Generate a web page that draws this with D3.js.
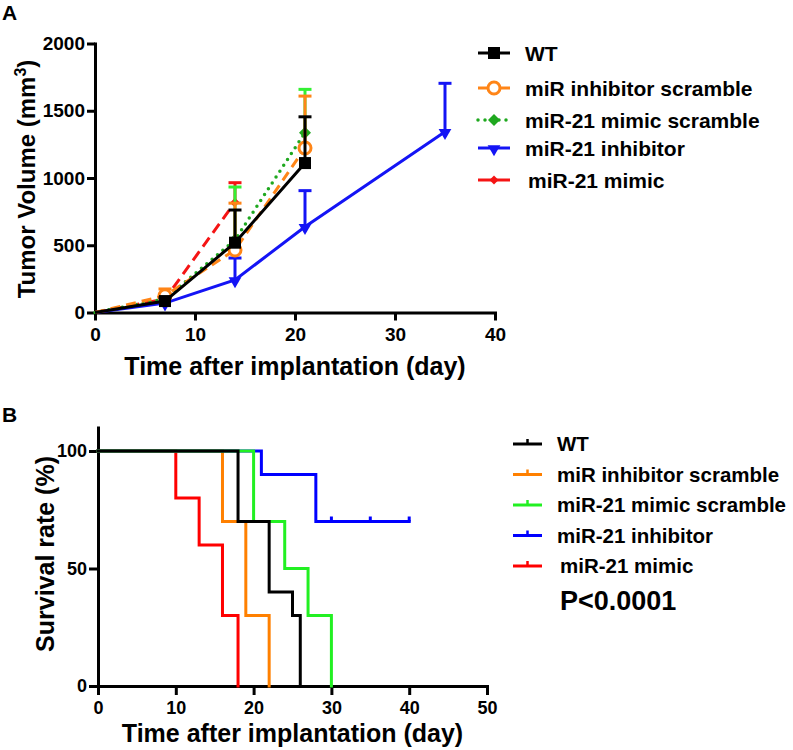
<!DOCTYPE html>
<html><head><meta charset="utf-8">
<script src="https://cdn.jsdelivr.net/npm/d3@7"></script>
<style>
body{margin:0;background:#fff}
svg{display:block}
text{font-family:"Liberation Sans",Arial,Helvetica,sans-serif;font-weight:bold;fill:#000}
</style>
</head><body><svg id="c" width="793" height="750"></svg>
<script>
// ---------- Panel A: tumor volume (mean, +SD) ----------
const groupNames = ["WT","miR inhibitor scramble","miR-21 mimic scramble","miR-21 inhibitor","miR-21 mimic"];
const wtDays = [0,7,14,21];
const wtMean = [0,85,519,1111];
const wtSD   = [0,25,243,344];
const invScrDays = [0,7,14,21];
const invScrMean = [0,125,465,1223];
const invScrSD   = [0,50,348,386];
const mimScrDays = [0,7,14,21];
const mimScrMean = [0,100,540,1337];
const mimScrSD   = [0,30,393,322];
const invDays = [0,7,14,21,35];
const invMean = [0,70,242,638,1344];
const invSD   = [0,20,163,268,360];
const mimDays = [0,7,14];
const mimMean = [0,100,820];
const mimSD   = [0,30,145];
const tumorXTicks = [0,10,20,30,40];
const tumorYTicks = [0,500,1000,1500,2000];

// ---------- Panel B: survival (Kaplan-Meier steps) ----------
const survWTDays = [0,18,22,25,26];
const survWTPct  = [100,70,40,30,0];
const survInvScrDays = [0,16,19,22];
const survInvScrPct  = [100,70,30,0];
const survMimScrDays = [0,20,24,27,30];
const survMimScrPct  = [100,70,50,30,0];
const survInvDays = [0,21,28,40];
const survInvPct  = [100,90,70,70];
const survInvCensored = [30,35,40];
const survMimDays = [0,10,13,16,18];
const survMimPct  = [100,80,60,30,0];
const survXTicks = [0,10,20,30,40,50];
const survYTicks = [0,50,100];
const pValueText = "P<0.0001";

const svg = d3.select("#c");
const zip = (xs, ys, es) => xs.map((x,i)=>({x, y: ys[i], e: es ? es[i] : 0}));

function styleAxis(g, fs){
  g.select(".domain").attr("stroke","#000").attr("stroke-width",3).attr("stroke-linecap","square");
  g.selectAll(".tick line").attr("stroke","#000").attr("stroke-width",3);
  g.selectAll(".tick text").style("font-size",fs+"px").attr("fill","#000");
}

// ===== Panel A =====
const xA = d3.scaleLinear().domain([0,40]).range([95,495]);
const yA = d3.scaleLinear().domain([0,2000]).range([312.5,43.5]);

svg.append("text").attr("x",2).attr("y",20).style("font-size","21px").text("A");

const gxA = svg.append("g").attr("transform",`translate(0,${yA(0)})`)
  .call(d3.axisBottom(xA).tickValues(tumorXTicks).tickFormat(d3.format("d")).tickSize(8).tickSizeOuter(0).tickPadding(7));
styleAxis(gxA,19);
const gyA = svg.append("g").attr("transform",`translate(${xA(0)},0)`)
  .call(d3.axisLeft(yA).tickValues(tumorYTicks).tickFormat(d3.format("d")).tickSize(8).tickSizeOuter(0).tickPadding(2));
styleAxis(gyA,19);

svg.append("text").attr("x",(xA(0)+xA(40))/2).attr("y",375).attr("text-anchor","middle")
  .style("font-size","25px").text("Time after implantation (day)");
const yt = svg.append("text").attr("transform","translate(35,179) rotate(-90)").attr("text-anchor","middle").style("font-size","24px");
yt.append("tspan").text("Tumor Volume (mm");
yt.append("tspan").attr("dy",-9).style("font-size","16px").text("3");
yt.append("tspan").attr("dy",9).text(")");

const seriesA = [
  {name:groupNames[3], data:zip(invDays,invMean,invSD), color:"#1414f5", err:"#1414f5", dash:null, cap:"butt", marker:"tri"},
  {name:groupNames[4], data:zip(mimDays,mimMean,mimSD), color:"#f51414", err:"#f51414", dash:"11,6", cap:"butt", marker:"smalldia"},
  {name:groupNames[2], data:zip(mimScrDays,mimScrMean,mimScrSD), color:"#1fa81f", err:"#33f033", dash:"0,7", cap:"round", marker:"dia"},
  {name:groupNames[1], data:zip(invScrDays,invScrMean,invScrSD), color:"#ff8517", err:"#ff8517", dash:"10,6", cap:"butt", marker:"circle"},
  {name:groupNames[0], data:zip(wtDays,wtMean,wtSD), color:"#000", err:"#000", dash:null, cap:"butt", marker:"square"}
];

function drawMarker(g, type, color, x, y){
  if(type==="square") g.append("rect").attr("x",x-6).attr("y",y-6).attr("width",12).attr("height",12).attr("fill",color);
  else if(type==="circle") g.append("circle").attr("cx",x).attr("cy",y).attr("r",6).attr("fill","#fff").attr("stroke",color).attr("stroke-width",3);
  else if(type==="dia") g.append("path").attr("d",d3.symbol(d3.symbolSquare,72)()).attr("transform",`translate(${x},${y}) rotate(45)`).attr("fill",color);
  else if(type==="smalldia") g.append("path").attr("d",d3.symbol(d3.symbolSquare,40)()).attr("transform",`translate(${x},${y}) rotate(45)`).attr("fill",color);
  else if(type==="tri") g.append("path").attr("d",d3.symbol(d3.symbolTriangle,70)()).attr("transform",`translate(${x},${y+1}) rotate(180)`).attr("fill",color);
}

const lineA = d3.line().x(d=>xA(d.x)).y(d=>yA(d.y));
seriesA.forEach(s=>{
  const g = svg.append("g");
  // error bars (upper only)
  s.data.filter(d=>d.e>0).forEach(d=>{
    g.append("line").attr("x1",xA(d.x)).attr("x2",xA(d.x)).attr("y1",yA(d.y)).attr("y2",yA(d.y+d.e))
      .attr("stroke",s.err).attr("stroke-width",3);
    g.append("line").attr("x1",xA(d.x)-6.5).attr("x2",xA(d.x)+6.5).attr("y1",yA(d.y+d.e)).attr("y2",yA(d.y+d.e))
      .attr("stroke",s.err).attr("stroke-width",3);
  });
  g.append("path").attr("d",lineA(s.data)).attr("fill","none").attr("stroke",s.color)
    .attr("stroke-width",s.marker==="dia"?3.5:3).attr("stroke-dasharray",s.dash).attr("stroke-linecap",s.cap);
  s.data.filter(d=>d.x>0).forEach(d=>drawMarker(g,s.marker,s.color,xA(d.x),yA(d.y)));
});

// Legend A
const legA = [seriesA[4],seriesA[3],seriesA[2],seriesA[0],seriesA[1]];
const legAy = [53,88,120,148,180];
legA.forEach((s,i)=>{
  const g = svg.append("g");
  const y = legAy[i];
  g.append("line").attr("x1",478).attr("x2",510).attr("y1",y).attr("y2",y).attr("stroke",s.color)
    .attr("stroke-width",s.marker==="dia"?3.5:3).attr("stroke-dasharray",s.marker==="dia"?"0,7":null).attr("stroke-linecap",s.cap);
  drawMarker(g,s.marker,s.color,494,y);
  g.append("text").attr("x",i===4?528:525).attr("y",y).attr("dy","0.36em").style("font-size","21px").text(s.name);
});

// ===== Panel B =====
const xB = d3.scaleLinear().domain([0,50]).range([98,487]);
const yB = d3.scaleLinear().domain([0,110]).range([686,427.5]);

svg.append("text").attr("x",2).attr("y",422).style("font-size","21px").text("B");

const gxB = svg.append("g").attr("transform",`translate(0,${yB(0)})`)
  .call(d3.axisBottom(xB).tickValues(survXTicks).tickFormat(d3.format("d")).tickSize(9).tickSizeOuter(0).tickPadding(6));
styleAxis(gxB,18);
const gyB = svg.append("g").attr("transform",`translate(${xB(0)},0)`)
  .call(d3.axisLeft(yB).tickValues(survYTicks).tickFormat(d3.format("d")).tickSize(9).tickSizeOuter(0).tickPadding(2));
styleAxis(gyB,18);

svg.append("text").attr("x",(xB(0)+xB(50))/2).attr("y",742).attr("text-anchor","middle")
  .style("font-size","25px").text("Time after implantation (day)");
svg.append("text").attr("transform","translate(54,554) rotate(-90)").attr("text-anchor","middle")
  .style("font-size","25px").text("Survival rate (%)");

const seriesB = [
  {name:groupNames[4], data:zip(survMimDays,survMimPct), color:"#ff0000", cens:[]},
  {name:groupNames[1], data:zip(survInvScrDays,survInvScrPct), color:"#ff8000", cens:[]},
  {name:groupNames[3], data:zip(survInvDays,survInvPct), color:"#0000ff", cens:survInvCensored},
  {name:groupNames[2], data:zip(survMimScrDays,survMimScrPct), color:"#22f022", cens:[]},
  {name:groupNames[0], data:zip(survWTDays,survWTPct), color:"#000", cens:[]}
];
const lineB = d3.line().x(d=>xB(d.x)).y(d=>yB(d.y)).curve(d3.curveStepAfter);
seriesB.forEach(s=>{
  svg.append("path").attr("d",lineB(s.data)).attr("fill","none").attr("stroke",s.color)
    .attr("stroke-width",3).attr("stroke-linejoin","miter").attr("stroke-linecap","square");
  s.cens.forEach(c=>{
    const last = s.data.filter(d=>d.x<=c).pop();
    svg.append("line").attr("x1",xB(c)).attr("x2",xB(c)).attr("y1",yB(last.y)).attr("y2",yB(last.y)-5)
      .attr("stroke",s.color).attr("stroke-width",3);
  });
});

// Legend B
const legB = [seriesB[4],seriesB[1],seriesB[3],seriesB[2],seriesB[0]];
legB.forEach((s,i)=>{
  const y = 444 + i*30.5;
  svg.append("line").attr("x1",513).attr("x2",542).attr("y1",y).attr("y2",y).attr("stroke",s.color).attr("stroke-width",3);
  svg.append("line").attr("x1",527.5).attr("x2",527.5).attr("y1",y).attr("y2",y-5).attr("stroke",s.color).attr("stroke-width",2.5);
  svg.append("text").attr("x",i===4?560:557).attr("y",y).attr("dy","0.36em").style("font-size","20.5px").text(s.name);
});
svg.append("text").attr("x",560).attr("y",600).attr("dy","0.36em").style("font-size","27px").text(pValueText);
</script>
</body></html>
